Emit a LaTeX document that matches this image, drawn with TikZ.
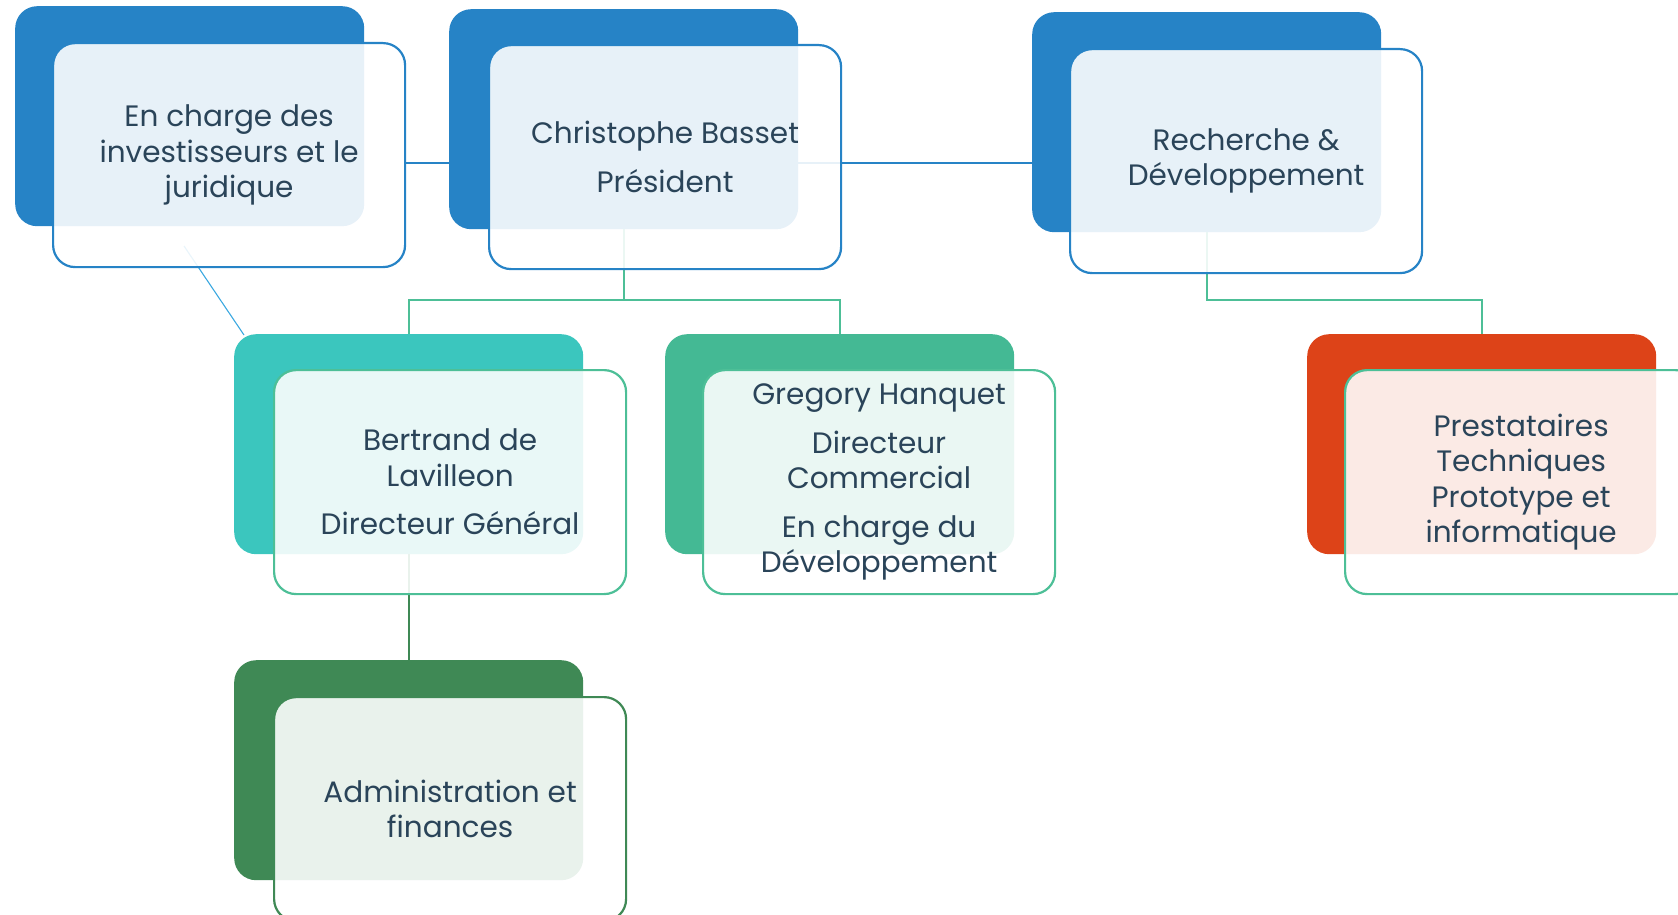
\documentclass[tikz,border=0pt]{standalone}
\usepackage{fontspec}
\setmainfont{Poppins}
\usetikzlibrary{backgrounds,calc}
\definecolor{cblue}{HTML}{2683C6}
\definecolor{cteal}{HTML}{3BC6BE}
\definecolor{cmint}{HTML}{44B994}
\definecolor{corange}{HTML}{DD4318}
\definecolor{cdark}{HTML}{3F8955}
\definecolor{cmintline}{HTML}{4DBF97}
\definecolor{clight}{HTML}{3BA8E0}
\definecolor{ctext}{HTML}{2A4459}
\begin{document}
\begin{tikzpicture}[x=1pt,y=-1pt,
  backbox/.style={rectangle, rounded corners=22pt, minimum width=349pt, minimum height=220pt,
    inner sep=0pt, anchor=north west, fill=#1, draw=none},
  frontbox/.style={rectangle, rounded corners=22pt, minimum width=352pt, minimum height=224pt,
    inner sep=0pt, anchor=north west, draw=#1, line width=2.2pt, fill=white, fill opacity=0.89,
    text opacity=1, text=ctext, align=center, font=\fontsize{29.5}{35.5}\selectfont},
  conn/.style={draw=#1, line width=2.4pt}
]
\useasboundingbox (0,0) rectangle (1678,915);
\clip (0,0) rectangle (1678,915);

% back boxes
\node[backbox=cblue] (aB) at (15,6) {};
\node[backbox=cblue] (bB) at (449,9) {};
\node[backbox=cblue] (cB) at (1032,12) {};
\node[backbox=cteal] (dB) at (234,334) {};
\node[backbox=cmint] (eB) at (665,334) {};
\node[backbox=corange] (fB) at (1307,334) {};
\node[backbox=cdark] (gB) at (234,660) {};

% front boxes
\node[frontbox=cblue] (aF) at (52,42) {En charge des\\investisseurs et le\\juridique};
\node[frontbox=cblue] (bF) at (488,44) {Christophe Basset\\[14pt]Président};
\node[frontbox=cblue] (cF) at (1069,48) {Recherche \&\\Développement};
\node[frontbox=cmintline] (dF) at (273,369) {Bertrand de\\Lavilleon\\[13pt]Directeur Général};
\node[frontbox=cmintline] (eF) at (702,369) {Gregory Hanquet\\[13pt]Directeur\\Commercial\\[13pt]En charge du\\Développement};
\node[frontbox=cmintline] (fF) at (1344,369) {Prestataires\\Techniques\\Prototype et\\informatique};
\node[frontbox=cdark] (gF) at (273,696) {Administration et\\finances};

% connectors
\begin{scope}[on background layer]
\coordinate (hy) at (0,163);
\coordinate (ty) at (0,300);
\coordinate (ds) at (184,246);
\draw[conn=cblue] (aF.east |- hy) -- (bB.center |- hy);
\draw[conn=cblue] (bB.center |- hy) -- (cB.center |- hy);
\draw[conn=cmintline] (bB.center) -- (bB.center |- ty) -| (dB.north);
\draw[conn=cmintline] (bB.center |- ty) -| (eB.north);
\draw[conn=cmintline] (cB.center) -- (cB.center |- ty) -| (fB.north);
\draw[conn=cdark] (dB.center) -- (gB.north);
\draw[draw=clight, line width=1.1pt] (ds) -- ($(dB.north west)+(10,1)$);
\end{scope}
\end{tikzpicture}
\end{document}
